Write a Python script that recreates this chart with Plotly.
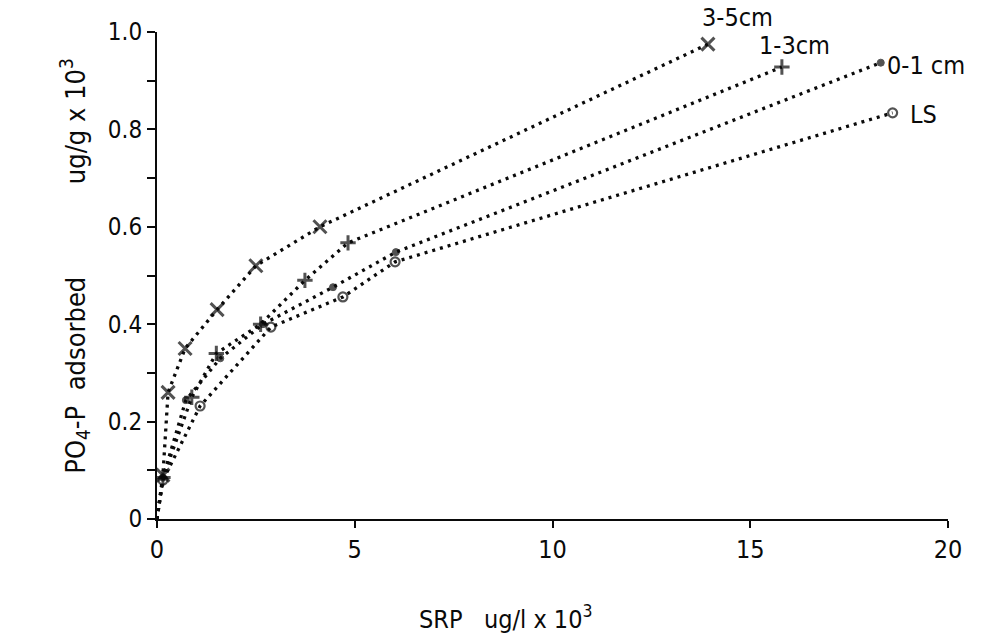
import plotly.graph_objects as go

# ---- data ----
x_35 = [0.0, 0.15, 0.28, 0.71, 1.52, 2.50, 4.12, 13.93]
y_35 = [0.0, 0.09, 0.26, 0.35, 0.43, 0.52, 0.60, 0.975]

x_13 = [0.0, 0.15, 0.88, 1.50, 2.62, 3.74, 4.83, 15.80]
y_13 = [0.0, 0.085, 0.25, 0.34, 0.40, 0.49, 0.567, 0.928]

x_01 = [0.0, 0.15, 0.73, 1.60, 2.68, 4.45, 6.04, 18.30]
y_01 = [0.0, 0.085, 0.244, 0.33, 0.40, 0.476, 0.548, 0.937]

x_ls = [0.0, 0.15, 1.09, 2.88, 4.70, 6.02, 18.60]
y_ls = [0.0, 0.08, 0.232, 0.394, 0.456, 0.528, 0.834]

series_names = ["3-5cm", "1-3cm", "0-1 cm", "LS"]
x_ticks = [0, 5, 10, 15, 20]
y_ticks = [0, 0.2, 0.4, 0.6, 0.8, 1.0]
y_tick_text = ["0", "0.2", "0.4", "0.6", "0.8", "1.0"]
x_title = "SRP   ug/l x 10<sup>3</sup>"
y_title = "PO<sub>4</sub>-P  adsorbed            ug/g x 10<sup>3</sup>"

INK = "#0a0a0a"
FONT = "DejaVu Sans Condensed, DejaVu Sans, sans-serif"

fig = go.Figure()

def add(xs, ys, name, symbol, size, lw):
    sizes = [0] + [size] * (len(xs) - 1)
    fig.add_trace(go.Scatter(
        x=xs, y=ys, name=name, mode="lines+markers",
        line=dict(color=INK, width=3.3, dash="3px,5px"),
        marker=dict(symbol=symbol, size=sizes, color=INK,
                    line=dict(color=INK, width=lw)),
        showlegend=False, cliponaxis=False,
    ))

add(x_35, y_35, series_names[0], "x-thin", 13, 3)
add(x_13, y_13, series_names[1], "cross-thin", 11, 3)
add(x_01, y_01, series_names[2], "circle", 7, 1)
add(x_ls, y_ls, series_names[3], "circle-open", 9, 2.2)

# series labels at line ends (y in paper units == data units, range 0..1)
label_pos = [(14.67, 1.03, "center"), (16.13, 0.973, "center"),
             (18.40, 0.932, "left"), (19.00, 0.83, "left")]
for name, (lx, ly, anc) in zip(series_names, label_pos):
    fig.add_annotation(x=lx, y=ly, xref="x", yref="paper", text=name,
                       showarrow=False, xanchor=anc, yanchor="middle",
                       font=dict(size=25, color=INK, family=FONT))

# axis titles
fig.add_annotation(x=0.44, y=-0.203, xref="paper", yref="paper", text=x_title,
                   showarrow=False, xanchor="center", yanchor="middle",
                   font=dict(size=25, color=INK, family=FONT))
fig.add_annotation(x=-0.1037, y=0.52, xref="paper", yref="paper", text=y_title,
                   textangle=-90, showarrow=False, xanchor="center", yanchor="middle",
                   font=dict(size=27, color=INK, family=FONT))

fig.update_layout(
    width=987, height=644,
    margin=dict(l=157, r=39, t=32, b=125),
    paper_bgcolor="white", plot_bgcolor="white",
    font=dict(family=FONT, color=INK, size=20),
    xaxis=dict(
        range=[0, 20], tickvals=x_ticks, ticktext=[str(v) for v in x_ticks],
        showgrid=False, zeroline=False, showline=True, linecolor=INK, linewidth=2,
        ticks="outside", ticklen=7, tickwidth=2, tickcolor=INK,
        tickfont=dict(size=25, family=FONT),
    ),
    yaxis=dict(
        range=[0, 1.0], tickvals=y_ticks, ticktext=y_tick_text,
        showgrid=False, zeroline=False, showline=True, linecolor=INK, linewidth=2,
        ticks="outside", ticklen=8, tickwidth=2, tickcolor=INK,
        minor=dict(dtick=0.1, ticks="outside", ticklen=8, tickwidth=2, tickcolor=INK),
        tickfont=dict(size=24, family=FONT),
    ),
)

fig.write_html("out.html")
